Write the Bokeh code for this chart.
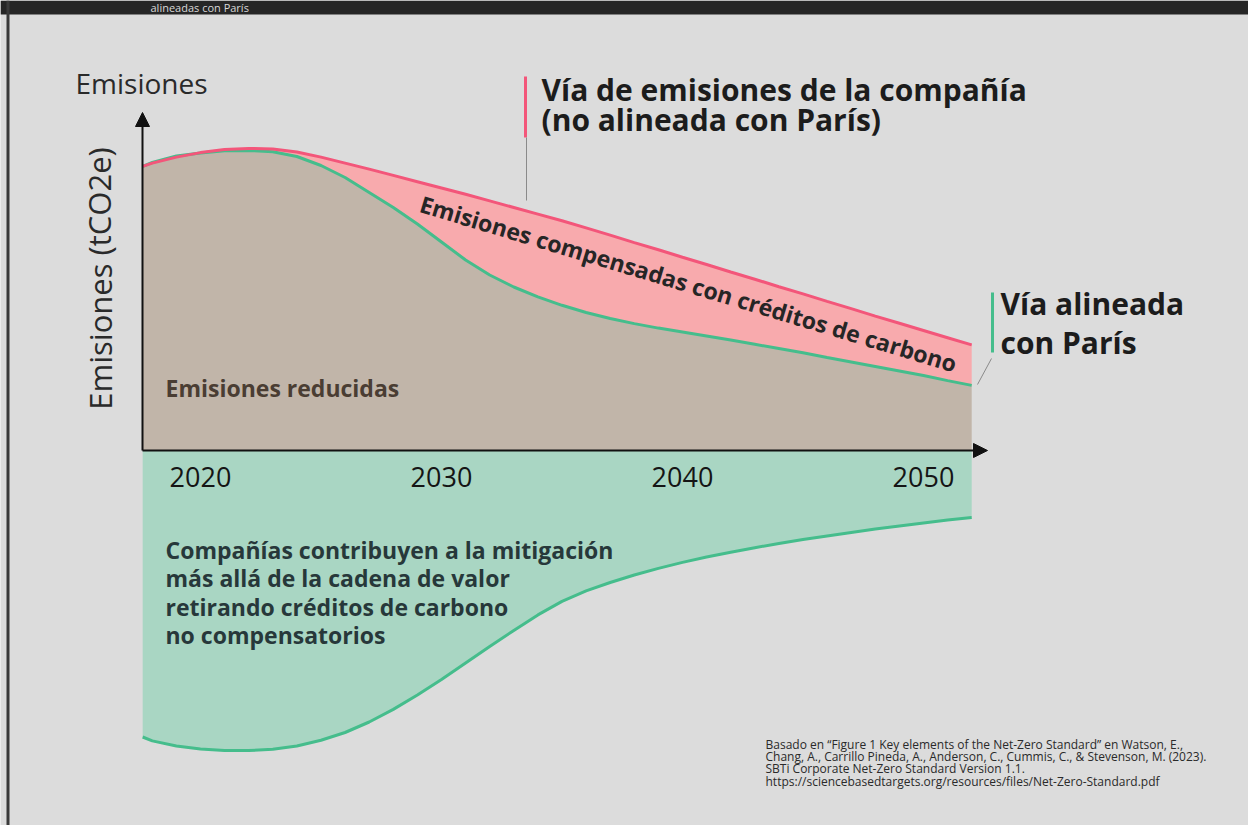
from bokeh.plotting import figure
from bokeh.models import Label, Arrow, NormalHead, BoxAnnotation, ColumnDataSource
from bokeh.core.properties import value
from bokeh.embed import file_html
from bokeh.resources import INLINE

# ---------------- data ----------------
years = [2017.6, 2018, 2019, 2020, 2021, 2022, 2023, 2024, 2025, 2026,
         2027, 2028, 2029, 2030, 2031, 2032, 2033, 2034, 2035, 2036,
         2037, 2038, 2039, 2040, 2041, 2042, 2043, 2044, 2045, 2046,
         2047, 2048, 2049, 2050, 2051, 2052]
company_path = [94.7, 95.8, 97.8, 99.3, 100.3, 100.7, 100.5, 99.5, 97.8, 95.8,
                93.8, 91.7, 89.6, 87.5, 85.4, 83.2, 81.0, 78.8, 76.6, 74.2,
                71.8, 69.3, 66.9, 64.4, 62.0, 59.5, 57.1, 54.6, 52.2, 49.7,
                47.3, 44.8, 42.4, 40.0, 37.6, 35.2]
paris_path = [94.7, 96.0, 98.2, 99.2, 99.9, 100.0, 99.6, 98.0, 95.0, 91.0,
              86.0, 81.0, 75.5, 69.5, 63.5, 58.5, 54.5, 51.2, 48.4, 46.0,
              44.0, 42.3, 40.8, 39.5, 38.2, 36.8, 35.4, 34.0, 32.6, 31.0,
              29.5, 28.0, 26.5, 25.0, 23.3, 21.7]
beyond_chain = [-95.5, -96.8, -98.5, -99.5, -100.0, -100.0, -99.6, -98.5, -96.6, -94.0,
                -90.5, -86.3, -81.5, -76.3, -70.8, -65.3, -60.0, -54.8, -50.3, -46.8,
                -44.0, -41.5, -39.3, -37.3, -35.5, -33.9, -32.4, -31.0, -29.7, -28.5,
                -27.3, -26.2, -25.2, -24.2, -23.2, -22.3]
baseline = [0.0] * len(years)

tick_years = [2020, 2030, 2040, 2050]
tick_labels = ["2020", "2030", "2040", "2050"]

# ---------------- layout helpers (page pixels -> data) ----------------
W, H = 1248, 825
def X(px):
    return 2020 + (px - 200) / 24.1
def Y(py):
    return (450 - py) / 3.0

FONT = "Open Sans"
BG = "#dcdcdc"
BROWN = "#c1b5a9"
PINK = "#f8aaad"
RED = "#f3567a"
GREEN_FILL = "#a9d6c3"
GREEN = "#45bd8c"

p = figure(width=W, height=H, output_backend="svg", toolbar_location=None,
           x_range=(X(0), X(W)), y_range=(Y(H), Y(0)),
           min_border=0, min_border_left=0, min_border_right=0,
           min_border_top=0, min_border_bottom=0)
p.axis.visible = False
p.grid.visible = False
p.outline_line_color = None
p.background_fill_color = BG
p.border_fill_color = BG

src = ColumnDataSource(dict(x=years, company=company_path, paris=paris_path,
                            beyond=beyond_chain, zero=baseline))

# areas
p.varea(x="x", y1="zero", y2="paris", source=src, fill_color=BROWN)
p.varea(x="x", y1="paris", y2="company", source=src, fill_color=PINK)
p.varea(x="x", y1="beyond", y2="zero", source=src, fill_color=GREEN_FILL)

# lines
p.line(x="x", y="paris", source=src, line_color=GREEN, line_width=3)
p.line(x="x", y="company", source=src, line_color=RED, line_width=3)
p.line(x="x", y="beyond", source=src, line_color=GREEN, line_width=3)

# axes as arrows
p.add_layout(Arrow(x_start=X(142), y_start=0, x_end=X(142), y_end=Y(112),
                   line_color="#111111", line_width=2,
                   end=NormalHead(size=14, fill_color="#111111", line_color="#111111")))
p.add_layout(Arrow(x_start=X(142), y_start=0, x_end=X(987), y_end=0,
                   line_color="#111111", line_width=2,
                   end=NormalHead(size=14, fill_color="#111111", line_color="#111111")))

# tick labels
p.text(x=tick_years, y=[Y(476)] * len(tick_years), text=tick_labels,
       text_font=value(FONT), text_font_size="27px", text_color="#151515",
       text_align="center", text_baseline="middle")

def lab(px, py, txt, size, bold=False, color="#1c1c1c", align="left",
        baseline="alphabetic", angle=0.0):
    p.add_layout(Label(x=X(px), y=Y(py), text=txt, text_font=FONT,
                       text_font_size=f"{size}px",
                       text_font_style="bold" if bold else "normal",
                       text_color=color, text_align=align,
                       text_baseline=baseline, angle=angle))

# axis titles
lab(75, 82, "Emisiones", 28, color="#2a2a2a")
lab(99, 278, "Emisiones (tCO2e)", 31, color="#2a2a2a", align="center",
    baseline="middle", angle=1.5708)

# company path title + leader
p.segment(x0=[X(525)], y0=[Y(76)], x1=[X(525)], y1=[Y(137)], line_color=RED, line_width=3)
p.segment(x0=[X(526)], y0=[Y(137)], x1=[X(526)], y1=[Y(200)], line_color="#8a8a8a", line_width=1)
lab(541, 89, "Vía de emisiones de la compañía", 30, bold=True)
lab(541, 119, "(no alineada con París)", 30, bold=True)

# paris title + leader
p.segment(x0=[X(992)], y0=[Y(292)], x1=[X(992)], y1=[Y(352)], line_color=GREEN, line_width=3)
p.segment(x0=[X(991)], y0=[Y(358)], x1=[X(977)], y1=[Y(384)], line_color="#8a8a8a", line_width=1)
lab(1000, 303, "Vía alineada", 30, bold=True)
lab(1000, 342, "con París", 30, bold=True)

# in-chart labels
lab(688, 283, "Emisiones compensadas con créditos de carbono", 23, bold=True,
    color="#262626", align="center", baseline="middle", angle=-0.292)
lab(165, 387, "Emisiones reducidas", 23, bold=True, color="#4a3d33")
for i, t in enumerate(["Compañías contribuyen a la mitigación",
                       "más allá de la cadena de valor",
                       "retirando créditos de carbono",
                       "no compensatorios"]):
    lab(165, 549 + i * 28.5, t, 23, bold=True, color="#27383a")

# source note
for i, t in enumerate([
        "Basado en \u201cFigure 1 Key elements of the Net-Zero Standard\u201d en Watson, E.,",
        "Chang, A., Carrillo Pineda, A., Anderson, C., Cummis, C., & Stevenson, M. (2023).",
        "SBTi Corporate Net-Zero Standard Version 1.1.",
        "https://sciencebasedtargets.org/resources/files/Net-Zero-Standard.pdf"]):
    lab(765, 744 + i * 12.2, t, 12, color="#2a2a2a")

# dark frame (top and left)
p.add_layout(BoxAnnotation(left=X(0), right=X(W), bottom=Y(14), top=Y(0),
                           fill_color="#262626", fill_alpha=1, line_color=None))
p.add_layout(BoxAnnotation(left=X(6), right=X(9), bottom=Y(H), top=Y(0),
                           fill_color="#3a3a3a", fill_alpha=1, line_color=None))
lab(150, 7, "alineadas con París", 11, color="#d8d8d8", baseline="middle")

open("out.html", "w").write(file_html(p, INLINE))
